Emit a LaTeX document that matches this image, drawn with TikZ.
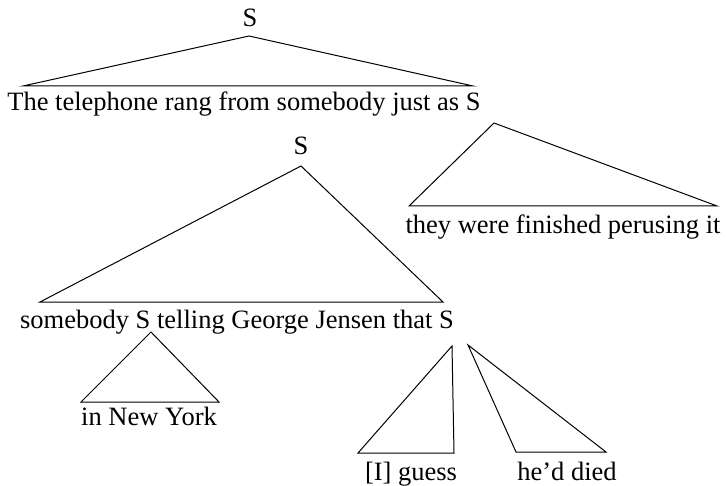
\documentclass[tikz,border=0pt]{standalone}
\usepackage{fontspec}
\setmainfont{Liberation Serif}
\usepackage{tikz}
\newcommand{\tri}[5]{\draw[line width=0.5pt, line join=miter] ( #1 , #2 ) -- ( #3 , #5 ) -- ( #4 , #5 ) -- cycle;}
\newcommand{\lablnode}[4]{\node[anchor=base, inner sep=0pt] (#1) at ( #2 , #3 ) {#4};}

\begin{document}
\begin{tikzpicture}[x=0.5pt, y=-0.5pt, font=\fontsize{13.25}{16}\selectfont]
        \useasboundingbox (0,0) rectangle (727,486);
        \lablnode{top}{250}{27}{S}
        \tri{249}{36}{23}{473}{86}
        \lablnode{phone}{244}{111}{The telephone rang from somebody just as S}
        \tri{494}{123}{409}{717}{206}
        \lablnode{perusing}{563}{234}{they were finished perusing it}
        \lablnode{sub}{301}{155}{S}
        \tri{301}{166}{40}{443}{302}
        \lablnode{telling}{237}{328}{somebody S telling George Jensen that S}
        \tri{151}{332}{81}{219}{402}
        \lablnode{york}{149}{425}{in New York}
        \tri{452}{346}{358}{454}{453}
        \lablnode{guess}{411}{480}{[I] guess}
        \tri{468}{345}{516}{606}{452}
        \lablnode{died}{567}{480}{he’d died}
\end{tikzpicture}
\end{document}
